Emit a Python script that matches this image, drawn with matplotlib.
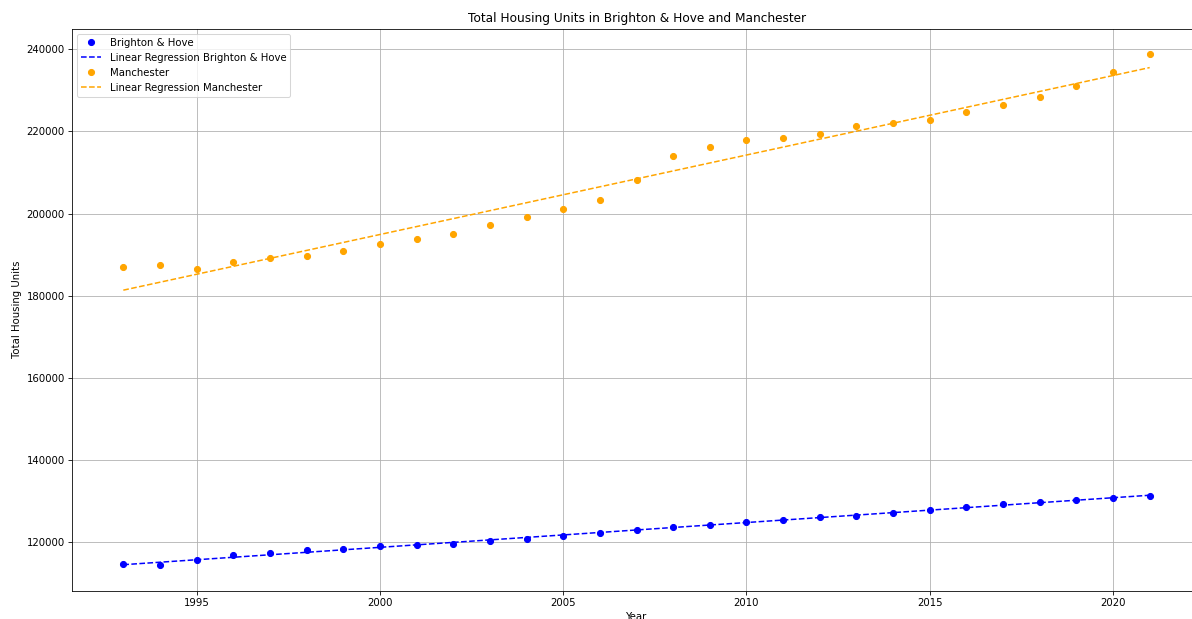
import numpy as np
import matplotlib
matplotlib.use("Agg")
import matplotlib.pyplot as plt

years = list(range(1993, 2022))
brighton = [114640, 114470, 115620, 116830, 117320, 118050, 118370, 119100, 119340, 119660,
            120390, 120730, 121460, 122190, 122920, 123730, 124290, 125020, 125500, 126090,
            126480, 127210, 127870, 128600, 129250, 129810, 130230, 130790, 131270]
manchester = [187060, 187480, 186580, 188200, 189250, 189600, 190900, 192660, 193880, 194950,
              197140, 199240, 201190, 203300, 208250, 214000, 216280, 217910, 218400, 219300,
              221400, 221970, 222860, 224660, 226360, 228380, 231060, 234470, 238850]

x = np.array(years, dtype=float)
DPI = 73
fig = plt.figure(figsize=(1192/DPI, 619/DPI), dpi=DPI)
ax = fig.add_axes([72/1192, (619-590.6)/619, 1129/1192, 562.1/619])

b_fit = np.polyfit(x, brighton, 1)
m_fit = np.polyfit(x, manchester, 1)

ax.plot(x, brighton, 'o', color='blue', label='Brighton & Hove')
ax.plot(x, np.polyval(b_fit, x), '--', color='blue', label='Linear Regression Brighton & Hove')
ax.plot(x, manchester, 'o', color='orange', label='Manchester')
ax.plot(x, np.polyval(m_fit, x), '--', color='orange', label='Linear Regression Manchester')

ax.set_title('Total Housing Units in Brighton & Hove and Manchester')
ax.set_xlabel('Year')
ax.set_ylabel('Total Housing Units')
ax.legend(loc='upper left')
ax.grid(True)

fig.savefig('out.png', dpi=DPI)
